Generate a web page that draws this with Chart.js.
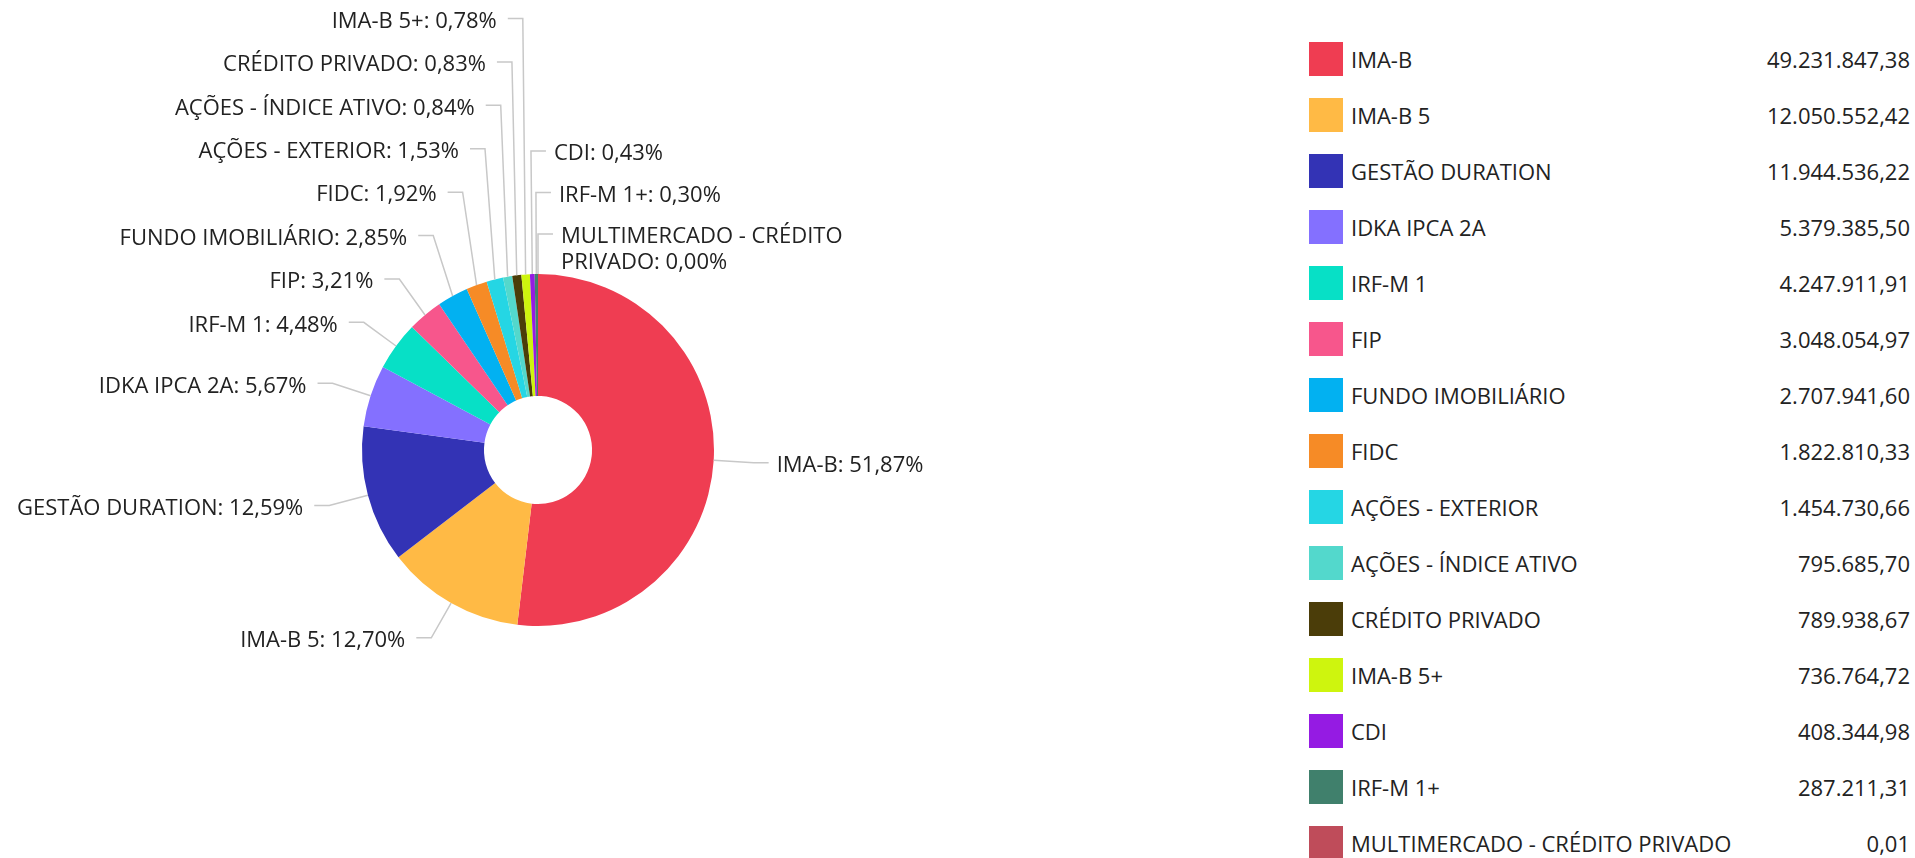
<!DOCTYPE html>
<html>
<head>
<meta charset="utf-8">
<script src="https://cdn.jsdelivr.net/npm/chart.js@4.4.0/dist/chart.umd.min.js"></script>
<style>
  html, body { margin: 0; padding: 0; background: #fff; }
  body { width: 1915px; height: 858px; position: relative; overflow: hidden; font-family: "Open Sans", sans-serif; color: #222; }
  #wrap { position: absolute; left: 0; top: 0; width: 1076px; height: 858px; }
  #legend { position: absolute; left: 1309px; top: 42px; width: 601px; }
  .row { position: relative; height: 34px; margin-bottom: 22px; }
  .sw { position: absolute; left: 0; top: 0; width: 34px; height: 34px; }
  .lb { position: absolute; left: 42px; top: 0; line-height: 34px; font-size: 22px; white-space: nowrap; }
  .vl { position: absolute; right: 0; top: 0; line-height: 34px; font-size: 22px; white-space: nowrap; }
</style>
</head>
<body>
<div id="wrap"><canvas id="chart"></canvas></div>
<div id="legend"></div>
<script>
const labels = ["IMA-B", "IMA-B 5", "GESTÃO DURATION", "IDKA IPCA 2A", "IRF-M 1", "FIP",
  "FUNDO IMOBILIÁRIO", "FIDC", "AÇÕES - EXTERIOR", "AÇÕES - ÍNDICE ATIVO", "CRÉDITO PRIVADO",
  "IMA-B 5+", "CDI", "IRF-M 1+", "MULTIMERCADO - CRÉDITO PRIVADO"];
const values = [49231847.38, 12050552.42, 11944536.22, 5379385.50, 4247911.91, 3048054.97,
  2707941.60, 1822810.33, 1454730.66, 795685.70, 789938.67, 736764.72, 408344.98, 287211.31, 0.01];
const colors = ["#ef3d52", "#ffba45", "#3333b5", "#8470ff", "#07e0c6", "#f7568c",
  "#02b1f1", "#f68b26", "#25d6e4", "#53d8cc", "#4b3d09", "#cef50e", "#951be3", "#40806c", "#bf4c5a"];

const total = values.reduce((a, b) => a + b, 0);

function fmtNum(v) {
  let s = v.toFixed(2).split(".");
  let int = s[0].replace(/\B(?=(\d{3})+(?!\d))/g, ".");
  return int + "," + s[1];
}
function fmtPct(v) {
  return (v / total * 100).toFixed(2).replace(".", ",") + "%";
}

// legend on the right
const legend = document.getElementById("legend");
labels.forEach((l, i) => {
  const row = document.createElement("div");
  row.className = "row";
  row.innerHTML = '<div class="sw" style="background:' + colors[i] + '"></div>' +
    '<div class="lb">' + l + '</div><div class="vl">' + fmtNum(values[i]) + '</div>';
  legend.appendChild(row);
});

function wrapText(ctx, text, maxW) {
  const words = text.split(" ");
  const lines = [];
  let cur = "";
  words.forEach(w => {
    const t = cur ? cur + " " + w : w;
    if (ctx.measureText(t).width > maxW && cur) {
      lines.push(cur);
      cur = w;
    } else {
      cur = t;
    }
  });
  if (cur) lines.push(cur);
  return lines;
}

// outside labels with leader lines
const pieLabels = {
  id: "pieLabels",
  afterDatasetsDraw(chart) {
    const ctx = chart.ctx;
    const arcs = chart.getDatasetMeta(0).data;
    const items = arcs.map((arc, i) => {
      let a = (arc.startAngle + arc.endAngle) / 2;
      const R = arc.outerRadius + 40;
      const right = Math.cos(a) > -0.05;
      if (right && a > Math.PI) a -= Math.PI * 2;
      return {
        i: i, a: a, right: right,
        ex: arc.x + arc.outerRadius * Math.cos(a),
        ey: arc.y + arc.outerRadius * Math.sin(a),
        px: arc.x + R * Math.cos(a),
        py: arc.y + R * Math.sin(a),
        text: labels[i] + ": " + fmtPct(values[i])
      };
    });

    const left = items.filter(d => !d.right).sort((p, q) => q.a - p.a);
    const right = items.filter(d => d.right).sort((p, q) => p.a - q.a);
    [[left, 43.4], [right, 41.5]].forEach(([list, gap]) => {
      let prev = Infinity;
      for (let k = list.length - 1; k >= 0; k--) {
        list[k].py = Math.min(list[k].py, prev - gap);
        prev = list[k].py;
      }
    });

    ctx.save();
    ctx.font = '22px "Open Sans"';
    ctx.fillStyle = "#222";
    ctx.textBaseline = "middle";
    items.forEach(d => {
      const dir = d.right ? 1 : -1;
      ctx.strokeStyle = "#c8c8c8";
      ctx.lineWidth = 1.5;
      ctx.beginPath();
      ctx.moveTo(d.ex, d.ey);
      ctx.lineTo(d.px, d.py);
      ctx.lineTo(d.px + dir * 15, d.py);
      ctx.stroke();
      ctx.textAlign = d.right ? "left" : "right";
      const lines = wrapText(ctx, d.text, 320);
      lines.forEach((ln, j) => {
        ctx.fillText(ln, d.px + dir * (d.right ? 23 : 26), d.py + 3 + j * 26);
      });
    });
    ctx.restore();
  }
};

new Chart(document.getElementById("chart"), {
  type: "doughnut",
  data: {
    labels: labels,
    datasets: [{
      data: values,
      backgroundColor: colors,
      borderWidth: 0
    }]
  },
  options: {
    responsive: true,
    maintainAspectRatio: false,
    animation: false,
    radius: 176,
    cutout: "30.7%",
    layout: { padding: { top: 42 } },
    plugins: {
      legend: { display: false },
      tooltip: { enabled: false }
    }
  },
  plugins: [pieLabels]
});
</script>
</body>
</html>
